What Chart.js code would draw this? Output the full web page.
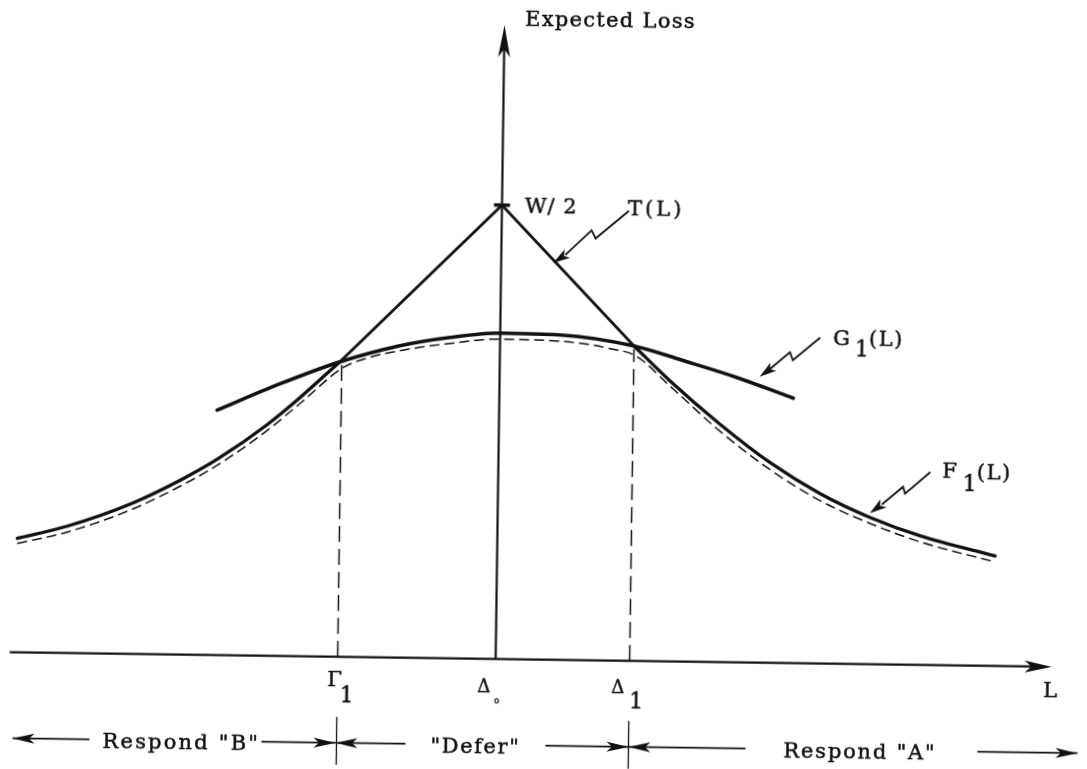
<!DOCTYPE html>
<html lang="en">
<head>
  <meta charset="UTF-8">
  <title>Expected Loss</title>
  <style>
    html, body {
      margin: 0;
      padding: 0;
      background: #ffffff;
      overflow: hidden;
    }
    .chart-container {
      width: 1087px;
      height: 769px;
    }
    /* the scanned figure sits slightly askew */
    #chart {
      transform: rotate(0.8deg);
    }
  </style>
</head>
<body>

<div class="chart-container">
  <canvas id="chart"></canvas>
</div>

<script src="https://cdn.jsdelivr.net/npm/chart.js"></script>
<script>
  // L runs along x (Δ0 at 0), expected loss up y
  const tLine = [[-1.60, 2.95], [0, 4.54], [1.34, 3.15]];

  const gCurve = [
    [-2.82, 2.45], [-2.20, 2.72], [-1.60, 2.95], [-1.00, 3.12], [-0.50, 3.21],
    [0, 3.26], [0.60, 3.25], [1.34, 3.15], [1.87, 3.00], [2.37, 2.85], [2.94, 2.65]
  ];

  const fLeft = [
    [-4.80, 1.14], [-4.30, 1.27], [-3.65, 1.51], [-3.15, 1.76], [-2.81, 1.96],
    [-2.32, 2.31], [-1.99, 2.59], [-1.60, 2.95]
  ];

  const fRight = [
    [1.34, 3.15], [1.70, 2.81], [2.21, 2.38], [2.72, 2.00], [3.22, 1.70],
    [3.72, 1.47], [4.23, 1.29], [4.98, 1.10]
  ];

  const fDashed = [
    [-4.80, 1.09], [-4.30, 1.21], [-3.65, 1.45], [-3.15, 1.70], [-2.81, 1.90],
    [-2.32, 2.25], [-1.99, 2.53], [-1.57, 2.89], [-1.30, 3.00], [-1.00, 3.07],
    [-0.50, 3.15], [0, 3.20], [0.80, 3.17], [1.10, 3.12], [1.36, 3.05],
    [1.71, 2.75], [2.21, 2.31], [2.72, 1.93], [3.22, 1.63], [3.72, 1.41],
    [4.23, 1.23], [4.98, 1.04]
  ];

  // Γ1 and Δ1, and how high their dashed drops reach
  const boundaryL = [-1.58, 1.34];
  const boundaryTop = [2.92, 3.12];

  const halfW = 4.54;      // W/2 on the loss axis
  const yAxisTop = 6.34;
  const xAxisFrom = -4.86;
  const xAxisTo = 5.56;

  const ink = '#111111';
  const font = '"DejaVu Serif", "Liberation Serif", serif';

  const pts = arr => arr.map(p => ({ x: p[0], y: p[1] }));

  function curve(data, width, dash) {
    return {
      data: pts(data),
      showLine: true,
      borderColor: ink,
      borderWidth: width,
      borderDash: dash || [],
      borderCapStyle: 'round',
      pointRadius: 0,
      cubicInterpolationMode: 'monotone',
      fill: false
    };
  }

  function straight(data, width, dash) {
    return Object.assign(curve(data, width, dash),
      { cubicInterpolationMode: 'default', tension: 0, borderCapStyle: 'butt' });
  }

  const datasets = [
    Object.assign(curve(fDashed, 1.5, [10, 5]), { borderCapStyle: 'butt' }),
    curve(gCurve, 3.6),
    curve(fLeft, 3.3),
    curve(fRight, 3.3),
    straight(tLine, 2.8)
  ];
  boundaryL.forEach((L, i) => {
    datasets.push(straight([[L, 0], [L, boundaryTop[i]]], 1.5, [16, 7]));
  });

  // annotation layer: axes, arrows, pointers and lettering
  const sketch = {
    id: 'sketch',
    afterDatasetsDraw(chart) {
      const ctx = chart.ctx;
      const X = v => chart.scales.x.getPixelForValue(v);
      const Y = v => chart.scales.y.getPixelForValue(v);

      ctx.save();
      ctx.strokeStyle = ink;
      ctx.fillStyle = ink;
      ctx.lineCap = 'butt';

      function seg(x1, y1, x2, y2, w) {
        ctx.lineWidth = w;
        ctx.beginPath();
        ctx.moveTo(x1, y1);
        ctx.lineTo(x2, y2);
        ctx.stroke();
      }

      function head(tx, ty, fx, fy, len, half) {
        const d = Math.hypot(tx - fx, ty - fy);
        const ux = (tx - fx) / d, uy = (ty - fy) / d;
        const bx = tx - ux * len, by = ty - uy * len;
        ctx.beginPath();
        ctx.moveTo(tx, ty);
        ctx.lineTo(bx - uy * half, by + ux * half);
        ctx.lineTo(bx + ux * len * 0.25, by + uy * len * 0.25);
        ctx.lineTo(bx + uy * half, by - ux * half);
        ctx.closePath();
        ctx.fill();
      }

      // loss axis
      seg(X(0), Y(0), X(0), Y(yAxisTop) + 20, 2.2);
      head(X(0), Y(yAxisTop), X(0), Y(0), 32, 6);
      // W/2 tick
      seg(X(0) - 8, Y(halfW), X(0) + 8, Y(halfW), 3.5);

      // L axis
      seg(X(xAxisFrom), Y(0), X(xAxisTo) - 15, Y(0), 2.2);
      head(X(xAxisTo), Y(0), X(xAxisFrom), Y(0), 27, 6);

      // region separators under the axis
      boundaryL.forEach(L => seg(X(L), Y(-0.60), X(L), Y(-1.08), 1.3));

      // region arrows
      const rowY = -0.86;
      const rowArrows = [
        [-4.05, -4.82], [-2.33, -1.59], [-0.89, -1.59],
        [0.51, 1.34], [2.51, 1.34], [4.83, 5.83]
      ];
      rowArrows.forEach(([from, to]) => {
        seg(X(from), Y(rowY), X(to), Y(rowY), 1.7);
        head(X(to), Y(rowY), X(from), Y(rowY), 22, 5);
      });

      // lightning pointers: tip on the curve, bolt drawn to the upper right
      const pointers = [
        { tip: [0.52, 3.97], bolt: [[75, -53], [42, -25], [38, -33], [12, -8]] },
        { tip: [2.60, 2.86], bolt: [[60, -40], [33, -17], [30, -25], [8, -6]] },
        { tip: [3.72, 1.51], bolt: [[60, -42], [35, -20], [33, -27], [12, -9]] }
      ];
      pointers.forEach(p => {
        const tx = X(p.tip[0]), ty = Y(p.tip[1]);
        ctx.lineWidth = 1.8;
        ctx.lineJoin = 'miter';
        ctx.beginPath();
        p.bolt.forEach(([dx, dy], i) => {
          if (i === 0) ctx.moveTo(tx + dx, ty + dy);
          else ctx.lineTo(tx + dx, ty + dy);
        });
        ctx.stroke();
        const n = p.bolt[p.bolt.length - 1];
        head(tx, ty, tx + n[0] * 2, ty + n[1] * 2, 17, 5);
      });

      // lettering, slightly stroked to look like the printed original
      ctx.textBaseline = 'alphabetic';
      ctx.textAlign = 'left';
      ctx.lineJoin = 'round';
      function write(x, y, parts) {
        let px = X(x);
        const py = Y(y);
        parts.forEach(part => {
          ctx.font = (part.size || 21) + 'px ' + font;
          ctx.letterSpacing = (part.sp === undefined ? 1.3 : part.sp) + 'px';
          px += part.gap || 0;
          ctx.fillText(part.t, px, py + (part.dy || 0));
          ctx.lineWidth = 0.5;
          ctx.strokeText(part.t, px, py + (part.dy || 0));
          px += ctx.measureText(part.t).width;
        });
      }

      write(0.205, 6.34, [{ t: 'Expected Loss' }]);
      write(0.23, 4.47, [{ t: 'W/ 2', sp: 1 }]);
      write(1.26, 4.46, [{ t: 'T(L)', sp: 3 }]);
      write(3.33, 3.19, [{ t: 'G', sp: 0 }, { t: '1', size: 22, dy: 11, gap: 5, sp: 0 }, { t: '(L)', sp: 1.5 }]);
      write(4.44, 1.88, [{ t: 'F', sp: 0 }, { t: '1', size: 22, dy: 13, gap: 6, sp: 0 }, { t: '(L)', sp: 1.5, dy: 1 }]);
      write(-1.68, -0.29, [{ t: 'Γ', sp: 0 }, { t: '1', size: 22, dy: 16, gap: -2, sp: 0 }]);
      write(-0.18, -0.33, [{ t: 'Δ', size: 18, sp: 0 }, { t: '0', size: 8, dy: 11, gap: 4, sp: 0 }]);
      write(1.16, -0.32, [{ t: 'Δ', size: 18, sp: 0 }, { t: '1', size: 22, dy: 15, gap: 5, sp: 0 }]);
      write(5.48, -0.30, [{ t: 'L', sp: 0 }]);

      write(-3.92, -0.945, [{ t: 'Respond "B"', sp: 2.2 }]);
      write(-0.64, -0.945, [{ t: '"Defer"', sp: 1.6 }]);
      write(2.89, -0.945, [{ t: 'Respond "A"', sp: 1.8 }]);

      ctx.restore();
    }
  };

  new Chart(document.getElementById('chart').getContext('2d'), {
    type: 'scatter',
    data: { datasets: datasets },
    options: {
      responsive: true,
      maintainAspectRatio: false,
      animation: false,
      layout: { padding: 0 },
      plugins: {
        legend: { display: false },
        tooltip: { enabled: false }
      },
      scales: {
        x: { type: 'linear', display: false, min: -4.995, max: 5.875 },
        y: { type: 'linear', display: false, min: -1.093, max: 6.597 }
      }
    },
    plugins: [sketch]
  });
</script>
</body>
</html>
